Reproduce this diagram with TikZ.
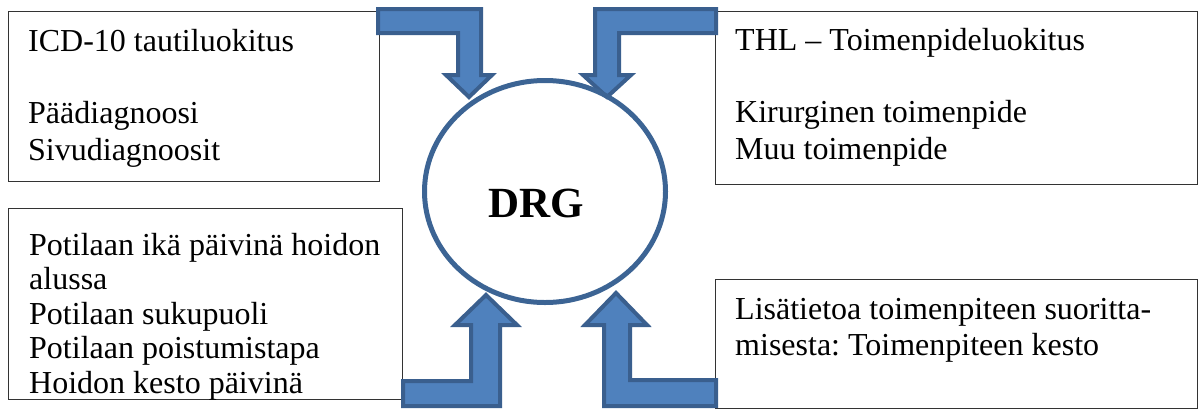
\documentclass[tikz,border=0pt]{standalone}
\usepackage{fontspec}
\setmainfont{Liberation Serif}
\usetikzlibrary{shapes.geometric}
\definecolor{arrfill}{HTML}{4F81BD}
\definecolor{arrline}{HTML}{3A5F8E}
\definecolor{ringline}{HTML}{3C6494}
\frenchspacing
\begin{document}
\begin{tikzpicture}[x=1pt,y=-1pt,
  box/.style={draw=black!80,line width=1.2pt,inner sep=0pt,anchor=north west},
  txt/.style={inner sep=0pt,align=left,anchor=base west,font=\fontsize{32}{36.5}\selectfont},
  blockarrow/.style={fill=arrfill,draw=arrline,line width=4pt,line join=miter}]
\useasboundingbox (0,0) rectangle (1198,410);
% boxes
\node[box,minimum width=371pt,minimum height=170pt] (tl) at (8,11) {};
\node[box,minimum width=394pt,minimum height=191pt] (bl) at (8,208) {};
\node[box,minimum width=482pt,minimum height=173pt] (tr) at (715,11) {};
\node[box,minimum width=482pt,minimum height=129pt] (br) at (715,279) {};
% texts (anchored at the baseline of the last line)
\node[txt] (tltext) at (28,160) {ICD-10 tautiluokitus\\[36pt]Päädiagnoosi\\Sivudiagnoosit};
\node[txt] (trtext) at (735,159) {THL – Toimenpideluokitus\\[36pt]Kirurginen toimenpide\\Muu toimenpide};
\node[txt,font=\fontsize{32}{34.5}\selectfont] (bltext) at (29,393) {Potilaan ikä päivinä hoidon\\alussa\\Potilaan sukupuoli\\Potilaan poistumistapa\\Hoidon kesto päivinä};
\node[txt,font=\fontsize{32}{36}\selectfont] (brtext) at (735,355) {Lisätietoa toimenpiteen suoritta-\\misesta: Toimenpiteen kesto};
% block arrows
\draw[blockarrow] (378,9) -- (481,9) -- (481,75) -- (492,75) -- (469,97) -- (446,75) -- (458,75) -- (458,33) -- (378,33) -- cycle;
\draw[blockarrow] (716,9) -- (595,9) -- (595,75) -- (583,75) -- (607,97) -- (631,75) -- (619,75) -- (619,33) -- (716,33) -- cycle;
\draw[blockarrow] (403,406) -- (403,381) -- (471,381) -- (471,325) -- (455,325) -- (486,295) -- (517,325) -- (500,325) -- (500,406) -- cycle;
\draw[blockarrow] (716,406) -- (716,380) -- (630,380) -- (630,325) -- (647,325) -- (616,293) -- (585,325) -- (604,325) -- (604,406) -- cycle;
% circle
\node[ellipse,draw=ringline,line width=5pt,inner sep=0pt,minimum width=241pt,minimum height=222pt] (drg) at (545,191.5) {};
\node[anchor=base,inner sep=0pt,font=\fontsize{43}{43}\selectfont\bfseries] (drglabel) at (536,217) {DRG};
\end{tikzpicture}
\end{document}
